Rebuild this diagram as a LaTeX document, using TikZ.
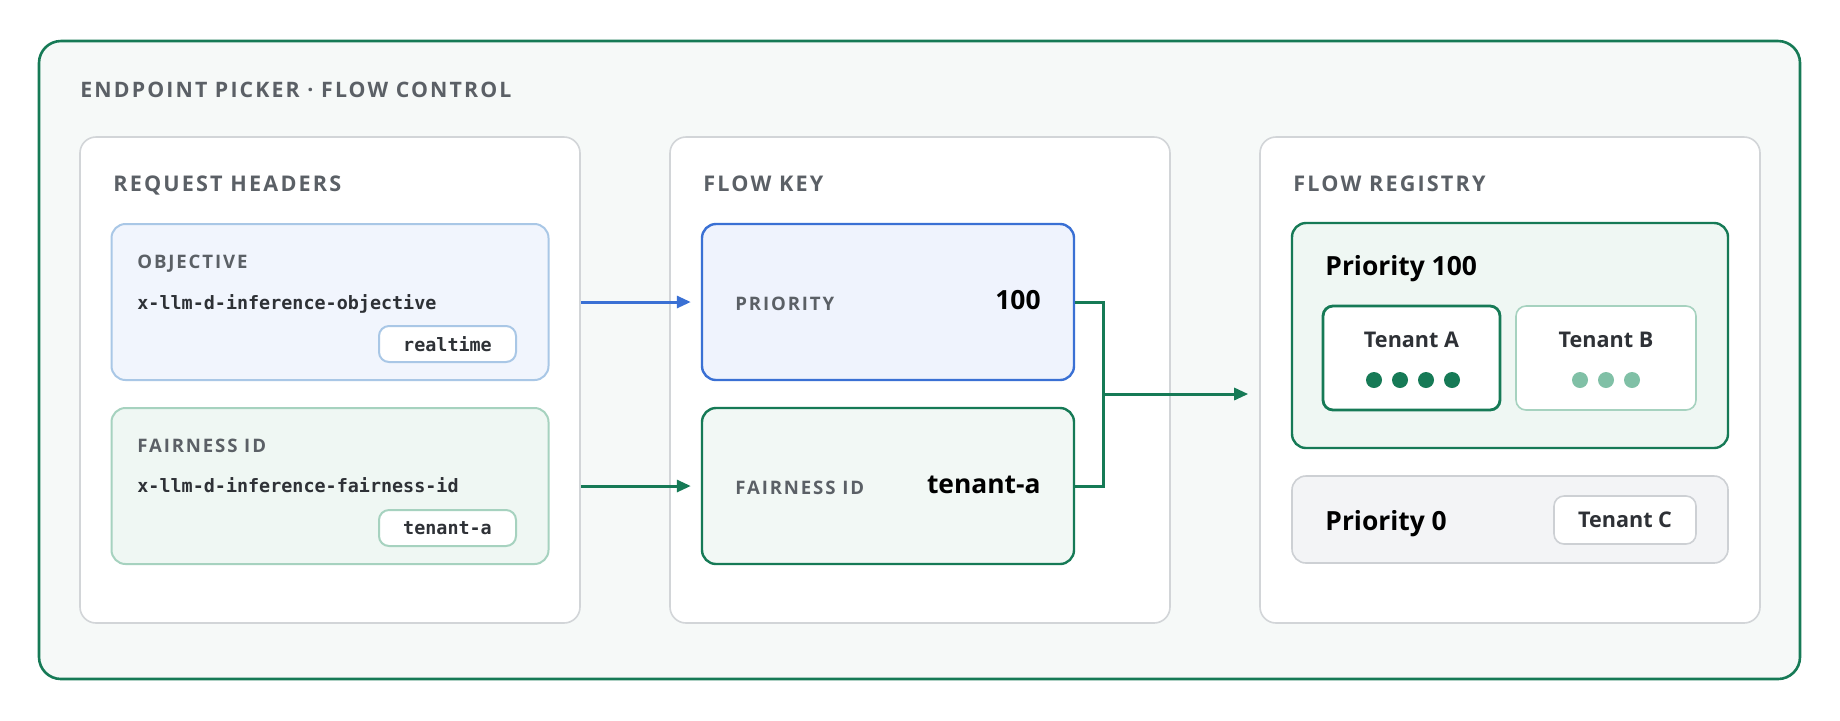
\documentclass[tikz,border=0pt]{standalone}
\usepackage{fontspec}
\setmainfont{Open Sans}
\setmonofont{DejaVu Sans Mono}
\newfontfamily\capsfont[LetterSpace=10]{Open Sans}
\usetikzlibrary{arrows.meta,calc}

\definecolor{fcgreen}{HTML}{167A56}
\definecolor{fcbg}{HTML}{F6F9F8}
\definecolor{panelgray}{HTML}{D2D5D8}
\definecolor{labelgray}{HTML}{5B6066}
\definecolor{inkgray}{HTML}{2E3136}
\definecolor{objfill}{HTML}{F1F5FD}
\definecolor{objdraw}{HTML}{A9C7E6}
\definecolor{fairfill}{HTML}{EFF7F3}
\definecolor{fairdraw}{HTML}{A6D2BF}
\definecolor{prioblue}{HTML}{3A70D4}
\definecolor{priofill}{HTML}{EFF3FD}
\definecolor{keyfill}{HTML}{F2F8F5}
\definecolor{dotlight}{HTML}{80C0A6}
\definecolor{zerofill}{HTML}{F3F4F6}
\definecolor{zerodraw}{HTML}{CDD0D4}

\begin{document}
\begin{tikzpicture}[x=0.5pt, y=-0.5pt,
    frame/.style={draw=fcgreen, line width=1.3pt, fill=fcbg, rounded corners=11pt, inner sep=0pt},
    panel/.style={draw=panelgray, line width=0.8pt, fill=white, rounded corners=8pt, inner sep=0pt,
        minimum width=250pt, minimum height=243pt},
    card/.style={rounded corners=7pt, inner sep=0pt, minimum height=78pt},
    pill/.style={fill=white, rounded corners=5pt, inner sep=0pt, font=\ttfamily\bfseries\fontsize{9.2}{11}\selectfont,
        text=inkgray},
    heading/.style={anchor=base west, inner sep=0pt, text=labelgray,
        font=\capsfont\bfseries\fontsize{10.8}{13}\selectfont},
    caplabel/.style={anchor=base west, inner sep=0pt, text=labelgray,
        font=\capsfont\bfseries\fontsize{9.3}{11}\selectfont},
    headername/.style={anchor=base west, inner sep=0pt, text=inkgray,
        font=\ttfamily\bfseries\fontsize{9.2}{11}\selectfont},
    bigvalue/.style={inner sep=0pt, text=black, font=\bfseries\fontsize{13.2}{16}\selectfont},
    tenantname/.style={anchor=base, inner sep=0pt, text=inkgray, font=\bfseries\fontsize{10.8}{13}\selectfont},
    link/.style={line width=1.5pt},
    tip/.style={-{Triangle[length=7pt, width=6pt]}}
]
\useasboundingbox (0,0) rectangle (1840,720);

% outer frame and the three panels
\node[frame, minimum width=880.5pt, minimum height=319pt] (outer) at (919.5,360) {};
\node[heading, font=\capsfont\bfseries\fontsize{10.65}{13}\selectfont] (title) at (80,97) {ENDPOINT PICKER · FLOW CONTROL};

\node[panel] (p1) at (330,380) {};
\node[panel] (p2) at (920,380) {};
\node[panel] (p3) at (1510,380) {};

\node[heading] (p1title) at (113,191) {REQUEST HEADERS};
\node[heading] (p2title) at (703,191) {FLOW KEY};
\node[heading] (p3title) at (1293,191) {FLOW REGISTRY};

% request headers
\node[card, draw=objdraw, fill=objfill, line width=1pt, minimum width=218.5pt] (obj) at (330,302) {};
\node[caplabel] (objlbl) at (137,268) {OBJECTIVE};
\node[headername] (objhdr) at (137,309) {x-llm-d-inference-objective};
\node[pill, draw=objdraw, line width=1pt, minimum width=68.5pt, minimum height=18pt] (objval) at (447.5,344) {realtime};

\node[card, draw=fairdraw, fill=fairfill, line width=1pt, minimum width=218.5pt] (fair) at (330,486) {};
\node[caplabel] (fairlbl) at (137,452) {FAIRNESS ID};
\node[headername] (fairhdr) at (137,492) {x-llm-d-inference-fairness-id};
\node[pill, draw=fairdraw, line width=1pt, minimum width=68.5pt, minimum height=18pt] (fairval) at (447.5,528) {tenant-a};

% flow key
\node[card, draw=prioblue, fill=priofill, line width=1.2pt, minimum width=186pt] (prio) at (888,302) {};
\node[caplabel] (priolbl) at (735,310) {PRIORITY};
\node[bigvalue, anchor=base east] (priovalue) at (1041,309) {100};

\node[card, draw=fcgreen, fill=keyfill, line width=1.2pt, minimum width=186pt] (keyfair) at (888,486) {};
\node[caplabel] (keyfairlbl) at (735,494) {FAIRNESS ID};
\node[bigvalue, anchor=base east] (keyfairvalue) at (1041,493) {tenant-a};

% flow registry
\node[card, draw=fcgreen, fill=fairfill, line width=1.2pt, minimum width=218pt, minimum height=112.5pt] (band100) at (1510,335.5) {};
\node[bigvalue, anchor=base west] (band100lbl) at (1325,275) {Priority 100};

\node[draw=fcgreen, fill=white, line width=1.4pt, rounded corners=5pt, inner sep=0pt,
    minimum width=88.5pt, minimum height=52pt] (tenantA) at (1411.5,358) {};
\node[tenantname] (tenantAlbl) at (1411.5,347) {Tenant A};
\node[draw=fairdraw, fill=white, line width=0.8pt, rounded corners=5pt, inner sep=0pt,
    minimum width=90pt, minimum height=52pt] (tenantB) at (1606,358) {};
\node[tenantname] (tenantBlbl) at (1606,347) {Tenant B};

% queued requests
\foreach \i in {0,...,3}
    \fill[fcgreen] (1374+26*\i,380) circle[radius=4pt];
\foreach \i in {0,...,2}
    \fill[dotlight] (1580+26*\i,380) circle[radius=4pt];

\node[card, draw=zerodraw, fill=zerofill, line width=0.8pt, minimum width=218pt, minimum height=43.5pt] (band0) at (1510,519.5) {};
\node[bigvalue, anchor=base west] (band0lbl) at (1325,530) {Priority 0};
\node[draw=zerodraw, fill=white, line width=0.8pt, rounded corners=5pt, inner sep=0pt,
    minimum width=71pt, minimum height=24pt, text=inkgray, font=\bfseries\fontsize{10.8}{13}\selectfont] (tenantC) at (1625,520) {Tenant C};

% connectors
\draw[link, tip, prioblue, shorten >=5pt] (obj.east -| p1.east) -- (prio.west);
\draw[link, tip, fcgreen, shorten >=5pt] (fair.east -| p1.east) -- (keyfair.west);

\draw[link, fcgreen] (prio.east) -- ++(14pt,0) coordinate (jtop) |- (keyfair.east);
\coordinate (join) at ($(jtop)!0.5!(jtop |- keyfair.east)$);
\draw[link, tip, fcgreen, shorten >=5.5pt] (join) -- (join -| p3.west);
\end{tikzpicture}
\end{document}
